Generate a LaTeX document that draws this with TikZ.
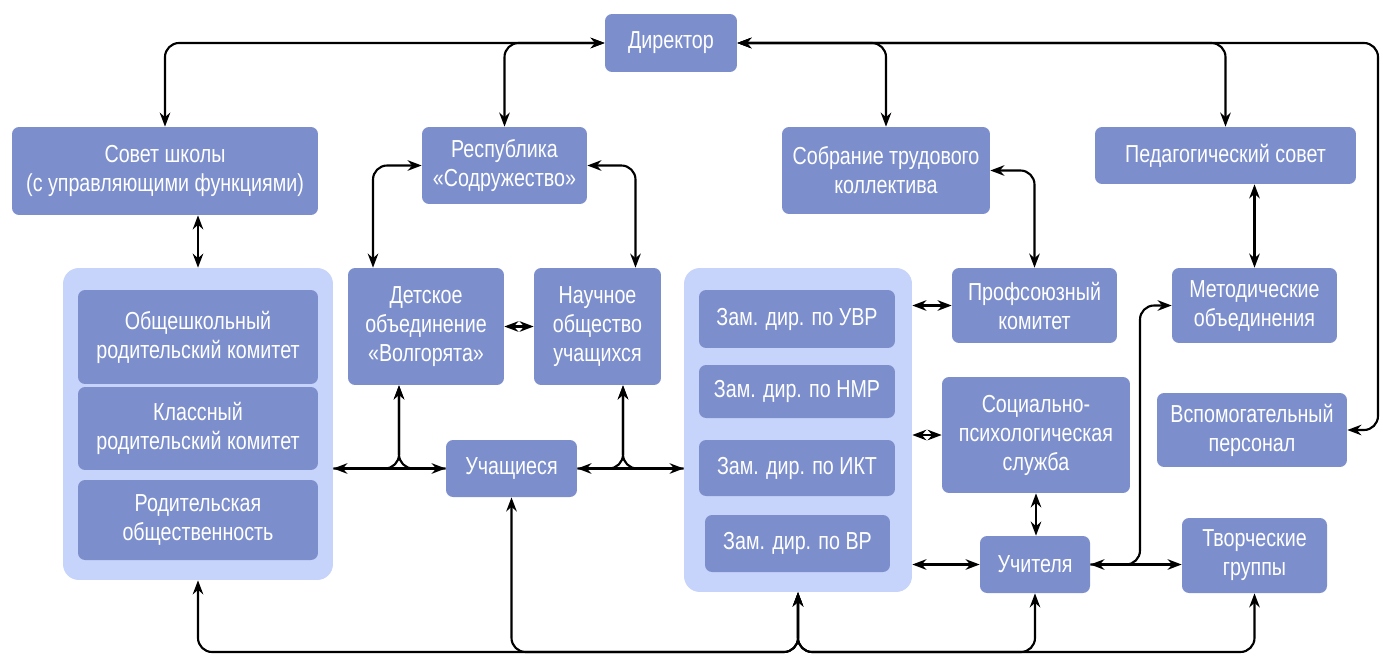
\documentclass[tikz,border=0pt]{standalone}
\usepackage{fontspec}
\setmainfont{Liberation Sans}[FakeStretch=0.8]
\usetikzlibrary{arrows.meta}

\definecolor{boxblue}{RGB}{124,143,204}
\definecolor{groupblue}{RGB}{198,211,250}

\tikzset{
  unit/.style={fill=boxblue, text=white, rounded corners=4pt, align=center,
    inner sep=0pt, font=\fontsize{14}{16.5}\selectfont},
  group/.style={fill=groupblue, rounded corners=9pt, inner sep=0pt},
  link/.style={line width=1.2pt, rounded corners=8pt,
    {Stealth[length=8pt,width=6pt]}-{Stealth[length=8pt,width=6pt]}},
  branch/.style={line width=1.2pt, rounded corners=8pt,
    -{Stealth[length=8pt,width=6pt]}},
}

\begin{document}
\begin{tikzpicture}[x=0.02cm, y=-0.02cm]
  \useasboundingbox (0,0) rectangle (1383,656);

  % groups
  \node[group, minimum width=5.4cm, minimum height=6.24cm] (parents) at (198,424) {};
  \node[group, minimum width=4.56cm, minimum height=6.48cm] (zam) at (798,430) {};

  % top row
  \node[unit, minimum width=2.64cm, minimum height=1.16cm] (dir) at (671,43) {Директор};
  \node[unit, minimum width=6.12cm, minimum height=1.76cm] (sovet) at (165,171) {Совет школы\\(с управляющими функциями)};
  \node[unit, minimum width=3.3cm, minimum height=1.54cm] (resp) at (504.5,165.5) {Республика\\«Содружество»};
  \node[unit, minimum width=4.16cm, minimum height=1.74cm] (sobr) at (886,170.5) {Собрание трудового\\коллектива};
  \node[unit, minimum width=5.22cm, minimum height=1.14cm] (ped) at (1225.5,155.5) {Педагогический совет};

  % parents
  \node[unit, minimum width=4.8cm, minimum height=1.88cm] (obsh) at (198,337) {Общешкольный\\родительский комитет};
  \node[unit, minimum width=4.8cm, minimum height=1.66cm] (klass) at (198,428.5) {Классный\\родительский комитет};
  \node[unit, minimum width=4.8cm, minimum height=1.6cm] (rodob) at (198,520) {Родительская\\общественность};

  % pupils
  \node[unit, minimum width=3.12cm, minimum height=2.34cm] (detsk) at (426,326.5) {Детское\\объединение\\«Волгорята»};
  \node[unit, minimum width=2.54cm, minimum height=2.34cm] (nauch) at (597.5,326.5) {Научное\\общество\\учащихся};
  \node[unit, minimum width=2.62cm, minimum height=1.14cm] (uch) at (511.5,468.5) {Учащиеся};

  % deputies
  \node[unit, minimum width=3.92cm, minimum height=1.16cm] (uvr) at (797,319) {Зам. дир. по УВР};
  \node[unit, minimum width=3.92cm, minimum height=1.06cm] (nmr) at (797,391.5) {Зам. дир. по НМР};
  \node[unit, minimum width=3.92cm, minimum height=1.12cm] (ikt) at (797,468) {Зам. дир. по ИКТ};
  \node[unit, minimum width=3.7cm, minimum height=1.14cm] (vr) at (797.5,543.5) {Зам. дир. по ВР};

  % staff
  \node[unit, minimum width=3.3cm, minimum height=1.5cm] (prof) at (1034.5,305.5) {Профсоюзный\\комитет};
  \node[unit, minimum width=3.76cm, minimum height=2.32cm] (soc) at (1036,435) {Социально-\\психологическая\\служба};
  \node[unit, minimum width=2.2cm, minimum height=1.14cm] (uchit) at (1035,564.5) {Учителя};
  \node[unit, minimum width=3.3cm, minimum height=1.5cm] (metod) at (1254.5,305.5) {Методические\\объединения};
  \node[unit, minimum width=3.8cm, minimum height=1.48cm] (vspom) at (1252,430) {Вспомогательный\\персонал};
  \node[unit, minimum width=2.9cm, minimum height=1.5cm] (tvor) at (1254.5,555.5) {Творческие\\группы};

  \coordinate (rtop) at (1378,43);
  \coordinate (bot) at (0,652);
  \coordinate (dv) at (399,0);
  \coordinate (nv) at (623,0);
  \coordinate (mv) at (1140,0);

  % director
  \draw[link] (sovet.north) |- (dir.west);
  \draw[link] (resp.north) |- (dir.west);
  \draw[link] (sobr.north) |- (dir.east);
  \draw[link] (ped.north) |- (dir.east);
  \draw[link] (vspom.east) -| (rtop) -- (dir.east);

  \draw[link] (sovet.south -| parents.north) -- (parents.north);
  \draw[link] (resp.west) -| ([xshift=-1.06cm]detsk.north);
  \draw[link] (resp.east) -| ([xshift=0.76cm]nauch.north);
  \draw[link] (detsk.east) -- (nauch.west);
  \draw[link] (sobr.east) -| (prof.north);
  \draw[link] (ped.south -| metod.north) -- (metod.north);

  \draw[link] (prof.west -| zam.east) -- (prof.west);
  \draw[link] (soc.west -| zam.east) -- (soc.west);
  \draw[link] (uchit.west -| zam.east) -- (uchit.west);
  \draw[link] (soc.south) -- (soc.south |- uchit.north);
  \draw[link] (uchit.east) -- (uchit.east -| tvor.west);
  \draw[branch] (uchit.east) -| (mv |- metod.west) -- (metod.west);

  % pupils row
  \draw[link] (uch.west -| parents.east) -- (uch.west);
  \draw[branch] (uch.west -| parents.east) -| (dv |- detsk.south);
  \draw[branch] (uch.west) -| (dv |- detsk.south);
  \draw[link] (uch.east) -- (uch.east -| zam.west);
  \draw[branch] (uch.east) -| (nv |- nauch.south);
  \draw[branch] (uch.east -| zam.west) -| (nv |- nauch.south);

  % bottom bus
  \draw[link] (parents.south) |- (bot -| zam.south) -- (zam.south);
  \draw[link] (uch.south) |- (bot -| zam.south) -- (zam.south);
  \draw[link] (uchit.south) |- (bot -| zam.south) -- (zam.south);
  \draw[link] (tvor.south) |- (bot -| zam.south) -- (zam.south);
\end{tikzpicture}
\end{document}
